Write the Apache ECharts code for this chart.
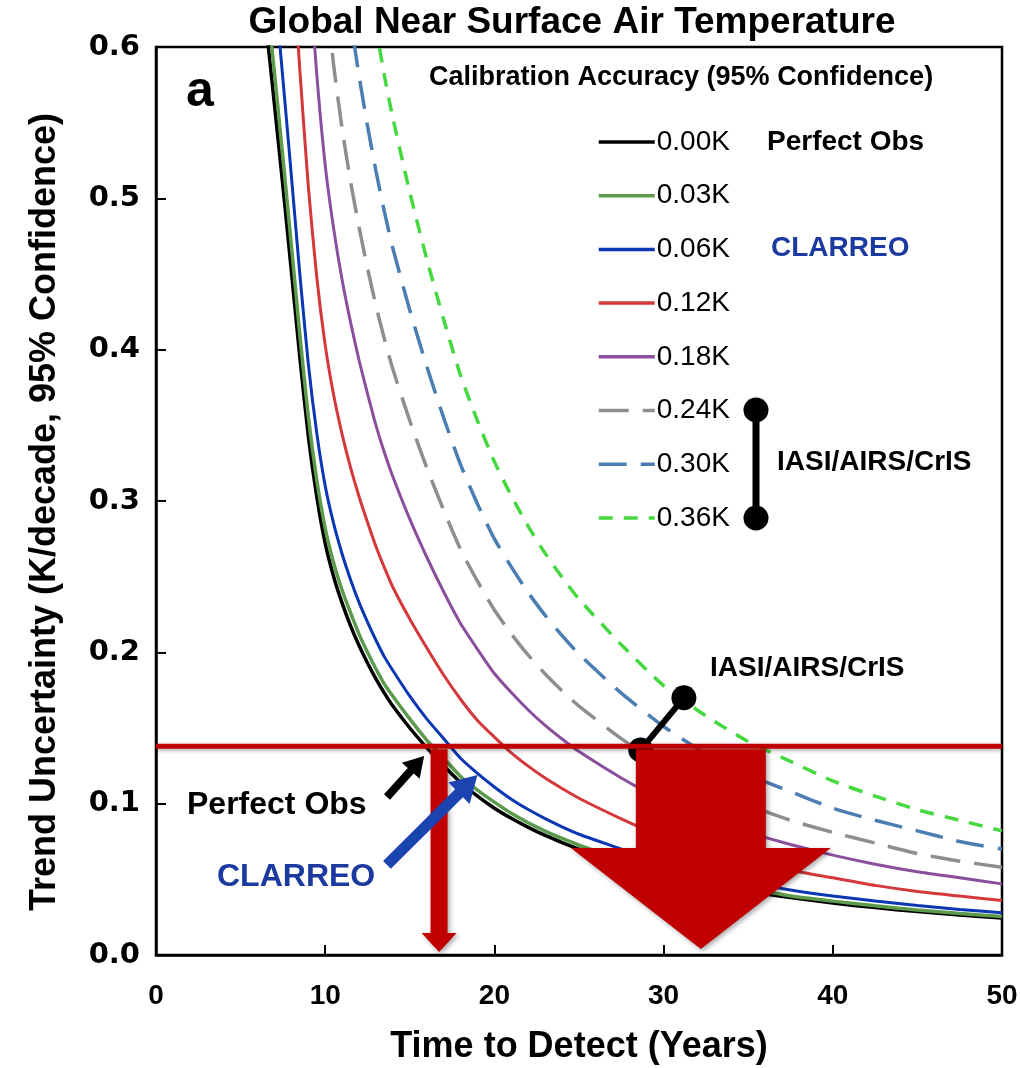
<!DOCTYPE html>
<html><head><meta charset="utf-8">
<script src="https://cdn.jsdelivr.net/npm/echarts@6/dist/echarts.min.js"></script>
<style>html,body{margin:0;padding:0;background:#fff}#c{width:1020px;height:1068px}</style>
</head><body><div id="c"></div>
<script>
// ---- data ----
const years = [6, 6.5, 7, 7.5, 8, 8.5, 9, 9.5, 10, 10.5, 11, 11.5, 12, 12.5, 13, 13.5, 14, 15, 16, 17, 18, 19, 20, 21, 22, 23, 24, 25, 27.5, 30, 32.5, 35, 37.5, 40, 42.5, 45, 47.5, 50];
const calLabels = ['0.00K', '0.03K', '0.06K', '0.12K', '0.18K', '0.24K', '0.30K', '0.36K'];
const k000 = [0.665,0.615,0.562,0.508,0.452,0.395,0.343,0.303,0.272,0.250,0.2325,0.2175,0.2045,0.193,0.1825,0.173,0.1645,0.150,0.137,0.125,0.114,0.105,0.097,0.0903,0.0843,0.0790,0.0743,0.0700,0.061,0.053,0.047,0.042,0.038,0.0343,0.0313,0.0287,0.0264,0.0245];
const k003 = [0.690,0.638,0.583,0.527,0.469,0.410,0.356,0.314,0.282,0.259,0.241,0.226,0.212,0.200,0.189,0.179,0.171,0.156,0.142,0.130,0.118,0.109,0.101,0.0936,0.0874,0.0819,0.0770,0.0726,0.063,0.055,0.049,0.044,0.039,0.0356,0.0325,0.0298,0.0274,0.0254];
const k006 = [0.758,0.701,0.641,0.579,0.515,0.450,0.391,0.345,0.310,0.285,0.265,0.248,0.233,0.220,0.208,0.197,0.188,0.171,0.156,0.143,0.130,0.120,0.111,0.1029,0.0961,0.0901,0.0847,0.0798,0.070,0.060,0.054,0.048,0.043,0.039,0.0357,0.0327,0.0301,0.0279];
const k012 = [0.984,0.910,0.832,0.752,0.669,0.585,0.508,0.448,0.403,0.370,0.344,0.322,0.303,0.286,0.270,0.256,0.243,0.222,0.203,0.185,0.169,0.155,0.144,0.1336,0.1248,0.1169,0.1100,0.1036,0.090,0.078,0.070,0.062,0.056,0.051,0.046,0.042,0.039,0.036];
const k018 = [null,null,null,0.975,0.868,0.758,0.659,0.582,0.522,0.480,0.446,0.418,0.393,0.371,0.350,0.332,0.316,0.288,0.263,0.240,0.219,0.202,0.186,0.1734,0.1619,0.1517,0.1427,0.1344,0.117,0.102,0.090,0.081,0.073,0.066,0.060,0.055,0.051,0.047];
const k024 = [null,null,null,null,null,null,null,0.712,0.639,0.588,0.546,0.511,0.481,0.454,0.429,0.407,0.387,0.353,0.322,0.294,0.268,0.247,0.228,0.2122,0.1981,0.1857,0.1746,0.1645,0.143,0.125,0.110,0.099,0.089,0.081,0.074,0.067,0.062,0.058];
const k030 = [null,null,null,null,null,null,null,null,null,null,0.660,0.618,0.581,0.548,0.518,0.491,0.467,0.426,0.389,0.355,0.324,0.298,0.275,0.2565,0.2394,0.2244,0.2110,0.1988,0.173,0.151,0.133,0.119,0.108,0.097,0.089,0.082,0.075,0.070];
const k036 = [null,null,null,null,null,null,null,null,null,null,null,null,null,0.648,0.613,0.581,0.553,0.504,0.460,0.420,0.383,0.353,0.326,0.3034,0.2832,0.2654,0.2496,0.2352,0.205,0.178,0.158,0.141,0.128,0.115,0.105,0.096,0.089,0.082];
const threshold = 0.138;
const iasiYears = [28.65, 31.2];
const iasiValues = [0.1355, 0.170];
const xTickValues = [0, 10, 20, 30, 40, 50];
const yTickLabels = ['0.0', '0.1', '0.2', '0.3', '0.4', '0.5', '0.6'];

// ---- styling ----
const FONT = "'Liberation Sans', Arial, Helvetica, sans-serif";
const curves = [k000, k003, k006, k012, k018, k024, k030, k036];
const lineStyles = [
  {color:'#000000', width:3.5, type:'solid'},
  {color:'#5c9a4c', width:3.5, type:'solid'},
  {color:'#0b36b4', width:3, type:'solid'},
  {color:'#d5383a', width:3, type:'solid'},
  {color:'#8b4e9c', width:3, type:'solid'},
  {color:'#8e8e8e', width:3.5, type:[30,14]},
  {color:'#4a7eb2', width:3.5, type:[28,14]},
  {color:'#45d83f', width:3.5, type:[14,11]}
];
// annotation arrows (data-space endpoints; widths in px)
const arrows = [
  {from:[16.73,0.136], to:[16.73,0.002], shaft:17, head:35, len:19, color:'#c00000', shadow:true},
  {from:[32.2,0.136], to:[32.2,0.004], shaft:130, head:260, len:101, color:'#c00000', shadow:true},
  {from:[13.65,0.1044], to:[15.85,0.1315], shaft:8, head:24, len:20, color:'#000000', shadow:false},
  {from:[13.65,0.0595], to:[19.0,0.119], shaft:11, head:30, len:26, color:'#1b44b0', shadow:false}
];

const series = curves.map((arr, i) => ({
  name: calLabels[i], type: 'line', data: years.map((x, j) => [x, arr[j]]),
  symbol: 'none', showSymbol: false, smooth: 0.2, clip: true, silent: true, z: 2,
  lineStyle: {color: lineStyles[i].color, width: lineStyles[i].width, type: lineStyles[i].type, cap: 'butt'},
  itemStyle: {color: lineStyles[i].color}
}));

series.push({
  name: 'iasi', type: 'line', data: iasiYears.map((x, i) => [x, iasiValues[i]]),
  symbol: 'circle', symbolSize: 25, z: 4, silent: true,
  lineStyle: {color:'#000', width: 6}, itemStyle: {color:'#000'}
});
series.push({
  name: 'threshold', type: 'line', data: [[0, threshold], [50, threshold]],
  symbol: 'none', z: 5, silent: true,
  lineStyle: {color:'#c00000', width: 5, shadowBlur: 4, shadowColor:'rgba(0,0,0,0.3)', shadowOffsetY: 2}
});
series.push({
  type: 'custom', coordinateSystem: 'cartesian2d', z: 6, silent: true, clip: false,
  data: arrows.map((a, i) => [a.to[0], a.to[1], i]), encode: {x: 0, y: 1},
  renderItem: function (params, api) {
    const a = arrows[params.dataIndex];
    const p0 = api.coord(a.from), p1 = api.coord(a.to);
    const dx = p1[0] - p0[0], dy = p1[1] - p0[1];
    const L = Math.sqrt(dx*dx + dy*dy);
    const ux = dx / L, uy = dy / L, nx = -uy, ny = ux;
    const bx = p1[0] - ux * a.len, by = p1[1] - uy * a.len;
    const s = a.shaft / 2, h = a.head / 2;
    const pts = [
      [p0[0] + nx*s, p0[1] + ny*s], [bx + nx*s, by + ny*s], [bx + nx*h, by + ny*h],
      [p1[0], p1[1]], [bx - nx*h, by - ny*h], [bx - nx*s, by - ny*s], [p0[0] - nx*s, p0[1] - ny*s]
    ];
    return {type: 'polygon', shape: {points: pts}, style: {
      fill: a.color,
      shadowBlur: a.shadow ? 5 : 0, shadowColor: 'rgba(0,0,0,0.35)',
      shadowOffsetX: a.shadow ? 2 : 0, shadowOffsetY: a.shadow ? 2 : 0
    }};
  }
});

function txt(x, y, text, size, color, align, weight) {
  return {type:'text', x: x, y: y, z: 20, silent: true, style: {
    text: text, fill: color || '#000', font: (weight || 'bold') + ' ' + size + 'px ' + FONT,
    textAlign: align || 'left', textVerticalAlign: 'middle'
  }};
}

const option = {
  animation: false,
  backgroundColor: '#fff',
  grid: {left: 156, right: 18, top: 47, bottom: 113, show: true, borderColor: '#000', borderWidth: 2.5, outerBoundsMode: 'none', containLabel: false},
  xAxis: {
    type: 'value', min: 0, max: 50, interval: 10,
    axisLine: {show: true, onZero: false, lineStyle: {color:'#000', width: 2.5}},
    axisTick: {show: true, inside: true, length: 10, lineStyle: {color:'#000', width: 2}},
    axisLabel: {fontFamily: FONT, fontWeight: 'bold', fontSize: 28, color: '#000', margin: 27,
      formatter: v => (xTickValues.indexOf(v) >= 0 ? String(v) : '')},
    splitLine: {show: false},
    name: 'Time to Detect (Years)', nameLocation: 'middle', nameGap: 74,
    nameTextStyle: {fontFamily: FONT, fontWeight: 'bold', fontSize: 36, color: '#000'}
  },
  yAxis: {
    type: 'value', min: 0, max: 0.6, interval: 0.1,
    axisLine: {show: true, onZero: false, lineStyle: {color:'#000', width: 2.5}},
    axisTick: {show: true, inside: true, length: 10, lineStyle: {color:'#000', width: 2}},
    axisLabel: {fontFamily: "'DejaVu Sans', sans-serif", fontWeight: 'bold', fontSize: 29, color: '#000', margin: 16,
      formatter: v => yTickLabels[Math.round(v * 10)]},
    splitLine: {show: false},
    name: 'Trend Uncertainty (K/decade, 95% Confidence)', nameLocation: 'middle', nameGap: 93, nameRotate: 90,
    nameTextStyle: {fontFamily: FONT, fontWeight: 'bold', fontSize: 36, color: '#000', padding: [0, 22, 0, 0]}
  },
  legend: {
    data: calLabels, orient: 'vertical', left: 597, top: 128, itemWidth: 56, itemHeight: 28, itemGap: 25.7,
    selectedMode: false, padding: 0,
    itemStyle: {opacity: 0, borderWidth: 0},
    lineStyle: {width: 3.5},
    textStyle: {fontFamily: FONT, fontSize: 28, color: '#000', padding: [0, 0, 0, -3]}
  },
  graphic: [
    txt(572, 23, 'Global Near Surface Air Temperature', 37, '#000', 'center'),
    txt(200, 92, 'a', 50, '#000', 'center'),
    txt(429, 78, 'Calibration Accuracy (95% Confidence)', 27),
    txt(767, 142, 'Perfect Obs', 28),
    txt(771, 248, 'CLARREO', 28, '#1b3aa0'),
    txt(777, 462, 'IASI/AIRS/CrIS', 28),
    txt(710, 668, 'IASI/AIRS/CrIS', 28),
    txt(187, 805, 'Perfect Obs', 32),
    txt(217, 877, 'CLARREO', 32, '#1b3aa0'),
    {type:'line', z: 20, silent: true, shape: {x1: 756, y1: 410, x2: 756, y2: 518}, style: {stroke:'#000', lineWidth: 7}},
    {type:'circle', z: 20, silent: true, shape: {cx: 756, cy: 410, r: 12.5}, style: {fill:'#000'}},
    {type:'circle', z: 20, silent: true, shape: {cx: 756, cy: 518, r: 12.5}, style: {fill:'#000'}}
  ],
  series: series
};
const chart = echarts.init(document.getElementById('c'), null, {renderer: 'canvas'});
chart.setOption(option);
</script>
</body></html>
